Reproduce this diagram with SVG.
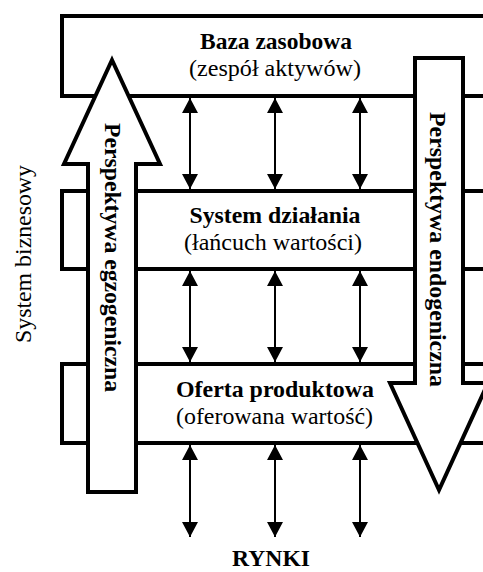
<svg xmlns="http://www.w3.org/2000/svg" width="483" height="572" viewBox="0 0 483 572" font-family="'Liberation Serif', 'Times New Roman', Times, serif">
<defs>
<style>
.box{fill:#fff;stroke:#000;stroke-width:4}
.big{fill:#fff;stroke:#000;stroke-width:4;stroke-linejoin:miter;stroke-miterlimit:10}
.conn{stroke:#000;stroke-width:2;fill:none;marker-start:url(#ah);marker-end:url(#ah)}
.t{font-family:'Liberation Serif','Times New Roman',Times,serif;font-size:23px;fill:#000}
.b{font-weight:bold}
.c{text-anchor:middle}
</style>
<marker id="ah" viewBox="0 0 15 16" refX="15" refY="8" markerWidth="15" markerHeight="16" markerUnits="userSpaceOnUse" orient="auto-start-reverse">
<path d="M0,0 L15,8 L0,16 z" fill="#000"/>
</marker>
</defs>
<rect width="483" height="572" fill="#fff"/>
<g id="baza">
<rect class="box" x="62" y="16" width="440" height="80"/>
<text class="t b c" x="276" y="49" textLength="152" lengthAdjust="spacingAndGlyphs">Baza zasobowa</text>
<text class="t c" x="275" y="76" textLength="172" lengthAdjust="spacingAndGlyphs">(zespół aktywów)</text>
</g>
<g id="system">
<rect class="box" x="62" y="191" width="440" height="78"/>
<text class="t b c" x="275" y="223" textLength="171" lengthAdjust="spacingAndGlyphs">System działania</text>
<text class="t c" x="273" y="250" textLength="178" lengthAdjust="spacingAndGlyphs">(łańcuch wartości)</text>
</g>
<g id="oferta">
<rect class="box" x="62" y="364" width="440" height="79"/>
<text class="t b c" x="275" y="397" textLength="198" lengthAdjust="spacingAndGlyphs">Oferta produktowa</text>
<text class="t c" x="274.5" y="424" textLength="197" lengthAdjust="spacingAndGlyphs">(oferowana wartość)</text>
</g>
<g id="connectors">
<line class="conn" x1="190" y1="98" x2="190" y2="189"/>
<line class="conn" x1="275" y1="98" x2="275" y2="189"/>
<line class="conn" x1="360" y1="98" x2="360" y2="189"/>
<line class="conn" x1="190" y1="271" x2="190" y2="362"/>
<line class="conn" x1="275" y1="271" x2="275" y2="362"/>
<line class="conn" x1="360" y1="271" x2="360" y2="362"/>
<line class="conn" x1="190" y1="445" x2="190" y2="537"/>
<line class="conn" x1="275" y1="445" x2="275" y2="537"/>
<line class="conn" x1="360" y1="445" x2="360" y2="537"/>
</g>
<g id="egzo">
<polygon class="big" points="112,60 160,164 136,164 136,492 88,492 88,164 64,164"/>
<text class="t b" transform="translate(105,123) rotate(90)" textLength="269" lengthAdjust="spacingAndGlyphs">Perspektywa egzogeniczna</text>
</g>
<g id="endo">
<polygon class="big" points="415,58 463,58 463,383 488,383 439,490 390,383 415,383"/>
<text class="t b" transform="translate(430,112) rotate(90)" textLength="275" lengthAdjust="spacingAndGlyphs">Perspektywa endogeniczna</text>
</g>
<g id="rynki">
<text class="t b c" x="271" y="566" textLength="78" lengthAdjust="spacingAndGlyphs">RYNKI</text>
</g>
<g id="biznes">
<text class="t c" transform="translate(31,254) rotate(-90)" textLength="178" lengthAdjust="spacingAndGlyphs">System biznesowy</text>
</g>
</svg>
